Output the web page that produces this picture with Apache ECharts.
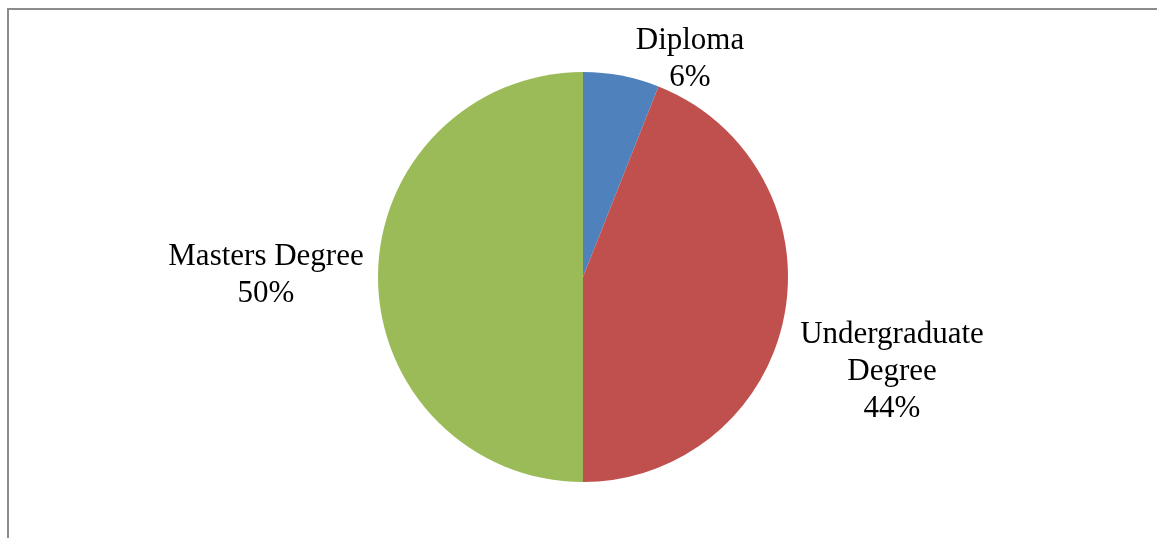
<!DOCTYPE html>
<html>
<head>
<meta charset="utf-8">
<script src="https://cdn.jsdelivr.net/npm/echarts@6/dist/echarts.min.js"></script>
<style>
  html, body { margin: 0; padding: 0; background: #fff; }
  #chart { width: 1157px; height: 538px; }
</style>
</head>
<body>
<div id="chart"></div>
<script>
(function() {
  // categories and shares (percent)
  var categories = ["Diploma", "Undergraduate Degree", "Masters Degree"];
  var shares = [6, 44, 50];
  var labelText = ["Diploma", "Undergraduate\nDegree", "Masters Degree"];
  var colors = ["#4F81BD", "#C0504D", "#9BBB59"];

  // where the labels sit (label centres, px)
  var labelPos = [[690, 59], [892, 372], [266, 275]];

  var myChart = echarts.init(document.getElementById("chart"));

  var data = categories.map(function(name, i) {
    return { name: name, value: shares[i], itemStyle: { color: colors[i] } };
  });

  var option = {
    animation: false,
    graphic: [
      {
        type: "polyline",
        shape: { points: [[8, 538], [8, 9], [1157, 9]] },
        style: { stroke: "#8c8c8c", lineWidth: 2, fill: null }
      }
    ],
    series: [
      {
        type: "pie",
        center: [583, 277],
        radius: [0, 205],
        startAngle: 90,
        clockwise: true,
        avoidLabelOverlap: false,
        itemStyle: { borderWidth: 0 },
        label: {
          show: true,
          position: "outside",
          formatter: function(p) {
            return labelText[p.dataIndex] + "\n" + p.value + "%";
          },
          fontFamily: "Liberation Serif",
          fontSize: 31,
          lineHeight: 37,
          color: "#000",
          align: "center"
        },
        labelLine: { show: false },
        labelLayout: function(params) {
          var p = labelPos[params.dataIndex];
          return {
            x: p[0],
            y: p[1],
            align: "center",
            verticalAlign: "middle"
          };
        },
        data: data
      }
    ]
  };
  myChart.setOption(option);

  window.addEventListener("resize", function() {
    myChart.resize();
  });
})();
</script>
</body>
</html>
